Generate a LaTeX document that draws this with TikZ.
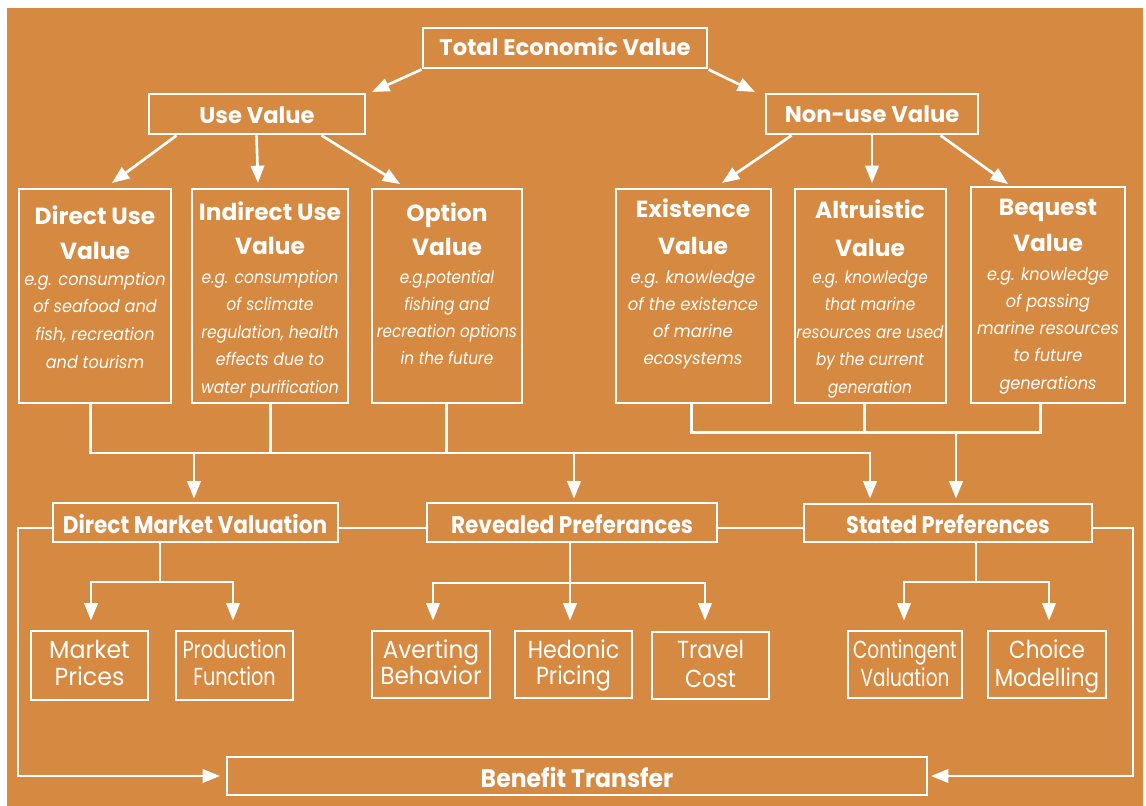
\documentclass[tikz,border=0pt]{standalone}
\usepackage{fontspec}
\setmainfont{Poppins}
\usetikzlibrary{arrows.meta,fit,calc}
\definecolor{bg}{RGB}{214,137,64}
\newcommand\hdf{\fontsize{17}{20}\selectfont\bfseries}
\newcommand\mhf{\fontsize{18}{20}\selectfont\bfseries}
\newcommand\vtf{\fontsize{17.5}{20}\selectfont\bfseries}
\newcommand\dsf{\fontsize{13}{15}\selectfont\itshape}
\newcommand\sbf{\fontsize{18.5}{20}\selectfont}
% name, x, first baseline, step, font, xscale, list
\newcommand\textlines[7]{%
  \foreach \lineText [count=\i] in {#7} {%
    \node[txt,font=#5] (#1\i) at ({#2},{#3+(\i-1)*#4}) {\scalebox{#6}[1]{\lineText}};}}
\begin{document}
\begin{tikzpicture}[x=0.75pt,y=-0.75pt,
  box/.style={draw=white,line width=2.2pt,inner sep=0pt,rectangle},
  ln/.style={draw=white,line width=2pt},
  arr/.style={ln,-{Triangle[length=13pt,width=10pt]}},
  txt/.style={text=white,anchor=base,inner sep=0pt}]
\fill[white] (0,0) rectangle (1146,806);
\useasboundingbox (0,0) rectangle (1146,806);
\fill[bg] (7,8) rectangle (1143,806);

% ---------- boxes ----------
\node[box,fit={(423,28)(707,68)}] (tev) {};
\node[box,fit={(149,94)(365,134)}] (use) {};
\node[box,fit={(766,94)(978,134)}] (non) {};
\node[box,fit={(19,189)(171,403)}] (d1) {};
\node[box,fit={(192,189)(348,403)}] (d2) {};
\node[box,fit={(372,189)(522,403)}] (d3) {};
\node[box,fit={(616,189)(771,403)}] (n1) {};
\node[box,fit={(795,189)(946,403)}] (n2) {};
\node[box,fit={(971,187)(1125,403)}] (n3) {};
\node[box,fit={(53,503)(338,542)}] (dmv) {};
\node[box,fit={(427,503)(717,542)}] (rp) {};
\node[box,fit={(804,504)(1092,542)}] (sp) {};
\node[box,fit={(31,631)(148,700)}] (m1) {};
\node[box,fit={(176,631)(293,700)}] (m2) {};
\node[box,fit={(372,631)(490,698)}] (r1) {};
\node[box,fit={(515,631)(632,698)}] (r2) {};
\node[box,fit={(652,632)(769,699)}] (r3) {};
\node[box,fit={(848,631)(962,698)}] (s1) {};
\node[box,fit={(988,631)(1106,698)}] (s2) {};
\node[box,fit={(227,757)(927,795)}] (bt) {};

% ---------- texts ----------
\node[txt,font=\hdf] (ttev) at (565,56) {Total Economic Value};
\node[txt,font=\hdf] (tuse) at (257,124) {Use Value};
\node[txt,font=\hdf] (tnon) at (872,123) {Non-use Value};

\textlines{d1t}{95}{224}{35}{\vtf}{1}{Direct Use,Value}
\textlines{d1d}{95}{285}{27.7}{\dsf}{0.93}{e.g. consumption,of seafood and,{fish, recreation},and tourism}
\textlines{d2t}{270}{220}{34}{\vtf}{1}{Indirect Use,Value}
\textlines{d2d}{270}{283}{27.5}{\dsf}{0.9}{e.g. consumption,of sclimate,{regulation, health},effects due to,water purification}
\textlines{d3t}{447}{221}{34}{\vtf}{1}{Option,Value}
\textlines{d3d}{447}{283}{27.3}{\dsf}{0.88}{e.g.potential,fishing and,recreation options,in the future}
\textlines{n1t}{693}{218}{36}{\vtf}{1}{Existence,Value}
\textlines{n1d}{693}{283}{27}{\dsf}{0.95}{e.g. knowledge,of the existence,of marine,ecosystems}
\textlines{n2t}{870}{219}{37}{\vtf}{1}{Altruistic,Value}
\textlines{n2d}{870}{283}{27.5}{\dsf}{0.88}{e.g. knowledge,that marine,resources are used,by the current,generation}
\textlines{n3t}{1048}{215}{37}{\vtf}{1}{Bequest,Value}
\textlines{n3d}{1048}{280}{27.3}{\dsf}{0.93}{e.g. knowledge,of passing,marine resources,to future,generations}

\node[txt,font=\mhf] (tdmv) at (195,533) {\scalebox{0.9}[1]{Direct Market Valuation}};
\node[txt,font=\mhf] (trp) at (572,533) {\scalebox{0.9}[1]{Revealed Preferances}};
\node[txt,font=\mhf] (tsp) at (948,533) {\scalebox{0.87}[1]{Stated Preferences}};
\node[txt,font={\fontsize{19}{20}\selectfont\bfseries}] (tbt) at (577,787) {\scalebox{0.93}[1]{Benefit Transfer}};

\textlines{m1t}{89.5}{658}{27}{\sbf}{0.96}{Market,Prices}
\textlines{m2t}{234.5}{658}{27}{\sbf}{0.78}{Production,Function}
\textlines{r1t}{431}{658}{26}{\sbf}{0.94}{Averting,Behavior}
\textlines{r2t}{573.5}{658}{26}{\sbf}{0.9}{Hedonic,Pricing}
\textlines{r3t}{710.5}{658}{29}{\sbf}{0.9}{Travel,Cost}
\textlines{s1t}{905}{658}{28}{\sbf}{0.75}{Contingent,Valuation}
\textlines{s2t}{1047}{658}{28}{\sbf}{0.87}{Choice,Modelling}

% ---------- connectors ----------
\coordinate (a1) at (372,92);
\coordinate (a2) at (755,92);
\draw[arr] (tev.south west) -- (a1);
\draw[arr] (tev.south east) -- (a2);

\coordinate (u1) at (112,183);
\coordinate (u2) at (258,183);
\coordinate (u3) at (400,184);
\draw[arr] ($(use.south west)+(29,0)$) -- (u1);
\draw[arr] ($(use.south west)+(109,0)$) -- (u2);
\draw[arr] ($(use.south west)+(174,0)$) -- (u3);

\coordinate (v1) at (722,183);
\coordinate (v2) at (872,183);
\coordinate (v3) at (1008,184);
\draw[arr] ($(non.south west)+(27,0)$) -- (v1);
\draw[arr] (non.south) -- (v2);
\draw[arr] ($(non.south west)+(176,0)$) -- (v3);

% left group merge
\draw[ln] ($(d1.south west)+(73,0)$) |- (870,453);
\draw[ln] ($(d2.south west)+(80,0)$) -- ++(0,50);
\draw[ln] ($(d3.south west)+(76,0)$) -- ++(0,50);
\draw[arr] (194,453) -- ($(dmv.north -| 194,0)+(0,-3)$);
\draw[arr] (574,453) -- ($(rp.north -| 574,0)+(0,-3)$);
\draw[arr] (870,452) -- ($(sp.north -| 870,0)+(0,-4)$);
% right group merge
\draw[ln] ($(n1.south west)+(77,0)$) |- ($(n3.south west)+(71,28)$) -- ($(n3.south west)+(71,0)$);
\draw[ln] ($(n2.south west)+(71,0)$) -- ++(0,28);
\draw[arr] (956,431) -- ($(sp.north -| 956,0)+(0,-4)$);

% horizontal links between method boxes
\coordinate (yc) at (0,528);
\draw[ln] (dmv.east |- yc) -- (rp.west |- yc);
\draw[ln] (rp.east |- yc) -- (sp.west |- yc);
\coordinate (btl) at (220,776);
\coordinate (btr) at (931,776);
\draw[arr] (dmv.west |- yc) -- (18,528) |- (btl);
\draw[arr] (sp.east |- yc) -- (1133,528) |- (btr);

% branches
\draw[ln] (dmv.south -| 160,0) -- (160,582);
\draw[ln] (91,582) -- (233,582);
\draw[arr] (91,581) -- ($(m1.north -| 91,0)+(0,-9)$);
\draw[arr] (233,581) -- ($(m2.north -| 233,0)+(0,-9)$);

\draw[ln] (rp.south -| 570,0) -- (570,583);
\draw[ln] (433,583) -- (705,583);
\draw[arr] (433,582) -- ($(r1.north -| 433,0)+(0,-9)$);
\draw[arr] (570,582) -- ($(r2.north -| 570,0)+(0,-9)$);
\draw[arr] (705,582) -- ($(r3.north -| 705,0)+(0,-10)$);

\draw[ln] (sp.south -| 976,0) -- (976,582);
\draw[ln] (904,582) -- (1049,582);
\draw[arr] (904,581) -- ($(s1.north -| 904,0)+(0,-9)$);
\draw[arr] (1049,581) -- ($(s2.north -| 1049,0)+(0,-9)$);
\end{tikzpicture}
\end{document}
